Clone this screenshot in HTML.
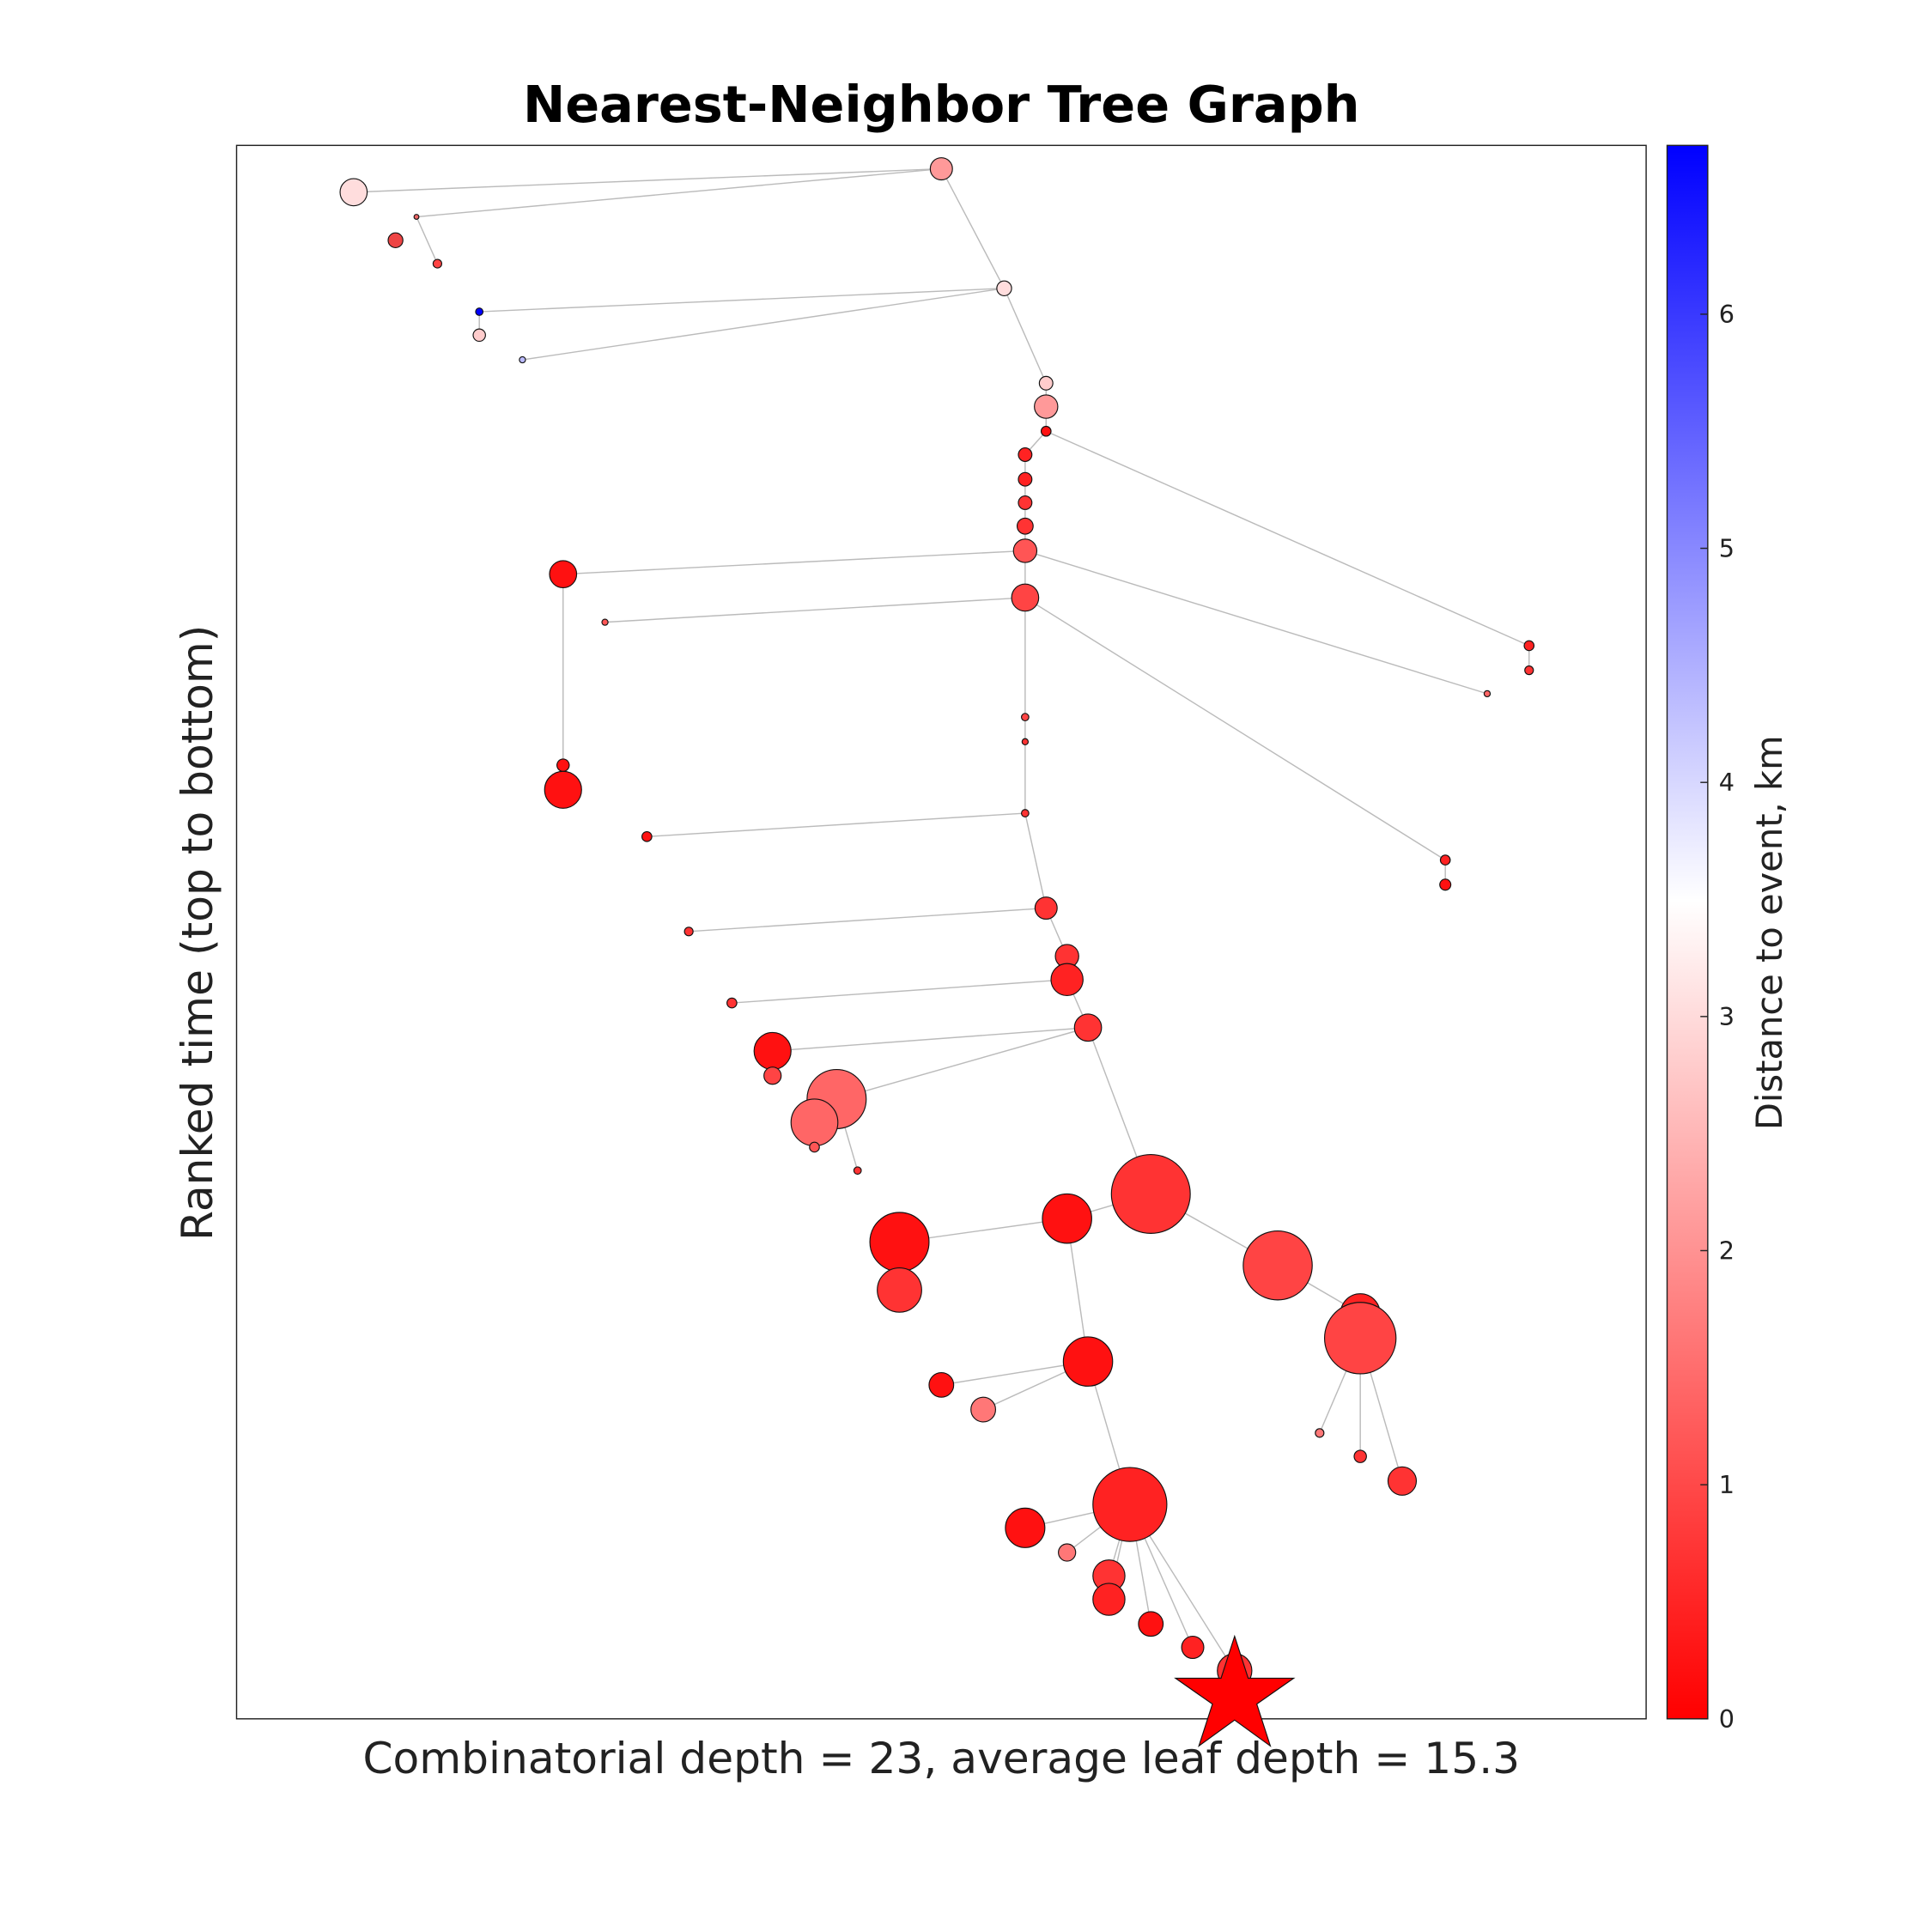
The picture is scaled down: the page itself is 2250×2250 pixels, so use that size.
<!DOCTYPE html>
<html><head><meta charset="utf-8"><style>html,body{margin:0;padding:0;background:#fff}svg{display:block}</style></head><body>
<svg xmlns="http://www.w3.org/2000/svg" width="2250" height="2250" viewBox="0 0 1568 1568" font-family="'DejaVu Sans','Liberation Sans',sans-serif">
<defs><linearGradient id="cb" x1="0" y1="1" x2="0" y2="0">
<stop offset="0" stop-color="#ff0000"/><stop offset="0.52" stop-color="#ffffff"/><stop offset="1" stop-color="#0000ff"/></linearGradient></defs>
<rect width="1568" height="1568" fill="#fff"/>
<rect x="192" y="118" width="1144" height="1277" fill="#fff" stroke="#222" stroke-width="1"/>
<g stroke="#bbb" stroke-width="1" fill="none">
<line x1="764" y1="137" x2="287" y2="156"/><line x1="764" y1="137" x2="338" y2="176"/><line x1="338" y1="176" x2="355" y2="214"/>
<line x1="764" y1="137" x2="815" y2="234"/><line x1="815" y1="234" x2="389" y2="253"/><line x1="815" y1="234" x2="424" y2="292"/><line x1="389" y1="253" x2="389" y2="272"/>
<line x1="815" y1="234" x2="849" y2="311"/><line x1="849" y1="311" x2="849" y2="350"/><line x1="849" y1="350" x2="1241" y2="524"/><line x1="1241" y1="524" x2="1241" y2="544"/>
<line x1="849" y1="350" x2="832" y2="369"/><line x1="832" y1="369" x2="832" y2="485"/>
<line x1="832" y1="447" x2="457" y2="466"/><line x1="832" y1="447" x2="1207" y2="563"/><line x1="457" y1="466" x2="457" y2="641"/>
<line x1="832" y1="485" x2="491" y2="505"/><line x1="832" y1="485" x2="1173" y2="698"/><line x1="1173" y1="698" x2="1173" y2="718"/><line x1="832" y1="485" x2="832" y2="660"/>
<line x1="832" y1="660" x2="525" y2="679"/><line x1="832" y1="660" x2="849" y2="737"/><line x1="849" y1="737" x2="559" y2="756"/><line x1="849" y1="737" x2="866" y2="776"/><line x1="866" y1="776" x2="866" y2="795"/>
<line x1="866" y1="795" x2="594" y2="814"/><line x1="866" y1="795" x2="883" y2="834"/><line x1="883" y1="834" x2="627" y2="853"/><line x1="883" y1="834" x2="679" y2="892"/><line x1="883" y1="834" x2="934" y2="969"/>
<line x1="627" y1="853" x2="627" y2="873"/><line x1="679" y1="892" x2="661" y2="911"/><line x1="661" y1="911" x2="661" y2="931"/><line x1="679" y1="892" x2="696" y2="950"/>
<line x1="934" y1="969" x2="866" y2="989"/><line x1="934" y1="969" x2="1037" y2="1027"/><line x1="866" y1="989" x2="730" y2="1008"/><line x1="866" y1="989" x2="883" y2="1105"/><line x1="730" y1="1008" x2="730" y2="1047"/>
<line x1="1037" y1="1027" x2="1104" y2="1066"/><line x1="1104" y1="1066" x2="1104" y2="1086"/><line x1="1104" y1="1086" x2="1071" y2="1163"/><line x1="1104" y1="1086" x2="1104" y2="1182"/><line x1="1104" y1="1086" x2="1138" y2="1202"/>
<line x1="883" y1="1105" x2="764" y2="1124"/><line x1="883" y1="1105" x2="798" y2="1144"/><line x1="883" y1="1105" x2="917" y2="1221"/>
<line x1="917" y1="1221" x2="832" y2="1240"/><line x1="917" y1="1221" x2="866" y2="1260"/><line x1="917" y1="1221" x2="900" y2="1279"/><line x1="917" y1="1221" x2="900" y2="1298"/><line x1="917" y1="1221" x2="934" y2="1318"/><line x1="917" y1="1221" x2="968" y2="1337"/><line x1="917" y1="1221" x2="1002" y2="1356"/>
</g>
<g stroke="#111" stroke-width="0.8">
<circle cx="764" cy="137" r="9" fill="#f99"/><circle cx="287" cy="156" r="11" fill="#fdd"/><circle cx="338" cy="176" r="2" fill="#e66"/><circle cx="321" cy="195" r="6" fill="#e44"/><circle cx="355" cy="214" r="3.5" fill="#f44"/>
<circle cx="815" cy="234" r="6" fill="#fdd"/><circle cx="389" cy="253" r="3" fill="#00f"/><circle cx="389" cy="272" r="5" fill="#fcc"/><circle cx="424" cy="292" r="2.5" fill="#bbf"/>
<circle cx="849" cy="311" r="5.5" fill="#fcc"/><circle cx="849" cy="330" r="9.5" fill="#f99"/><circle cx="849" cy="350" r="4" fill="#f11"/>
<circle cx="832" cy="369" r="5.5" fill="#f22"/><circle cx="832" cy="389" r="5.5" fill="#f22"/><circle cx="832" cy="408" r="5.5" fill="#f33"/><circle cx="832" cy="427" r="6.5" fill="#f33"/><circle cx="832" cy="447" r="9.5" fill="#f55"/>
<circle cx="457" cy="466" r="11" fill="#f11"/><circle cx="832" cy="485" r="11" fill="#f44"/><circle cx="491" cy="505" r="2.5" fill="#f55"/>
<circle cx="1241" cy="524" r="4" fill="#f22"/><circle cx="1241" cy="544" r="3.5" fill="#f33"/><circle cx="1207" cy="563" r="2.5" fill="#f66"/>
<circle cx="832" cy="582" r="3" fill="#f44"/><circle cx="832" cy="602" r="2.5" fill="#f33"/><circle cx="457" cy="621" r="5" fill="#f11"/><circle cx="457" cy="641" r="15" fill="#f11"/>
<circle cx="832" cy="660" r="3" fill="#f33"/><circle cx="525" cy="679" r="4" fill="#f11"/><circle cx="1173" cy="698" r="4" fill="#f22"/><circle cx="1173" cy="718" r="4.5" fill="#f11"/>
<circle cx="849" cy="737" r="9" fill="#f33"/><circle cx="559" cy="756" r="3.5" fill="#f33"/><circle cx="866" cy="776" r="9.5" fill="#f33"/><circle cx="866" cy="795" r="13" fill="#f22"/>
<circle cx="594" cy="814" r="4" fill="#f33"/><circle cx="883" cy="834" r="11" fill="#f33"/><circle cx="627" cy="853" r="15" fill="#f11"/><circle cx="627" cy="873" r="7" fill="#f44"/>
<circle cx="679" cy="892" r="24" fill="#f66"/><circle cx="661" cy="911" r="19" fill="#f66"/><circle cx="661" cy="931" r="4" fill="#f55"/><circle cx="696" cy="950" r="3" fill="#f33"/>
<circle cx="934" cy="969" r="32" fill="#f33"/><circle cx="866" cy="989" r="20" fill="#f11"/><circle cx="730" cy="1008" r="24" fill="#f11"/><circle cx="1037" cy="1027" r="28" fill="#f44"/>
<circle cx="730" cy="1047" r="18" fill="#f33"/><circle cx="1104" cy="1066" r="16" fill="#f22"/><circle cx="1104" cy="1086" r="29" fill="#f44"/>
<circle cx="883" cy="1105" r="20" fill="#f11"/><circle cx="764" cy="1124" r="10" fill="#f11"/><circle cx="798" cy="1144" r="10" fill="#f77"/>
<circle cx="1071" cy="1163" r="3.5" fill="#f77"/><circle cx="1104" cy="1182" r="5" fill="#f33"/><circle cx="1138" cy="1202" r="11.5" fill="#f33"/>
<circle cx="917" cy="1221" r="30" fill="#f22"/><circle cx="832" cy="1240" r="16" fill="#f11"/><circle cx="866" cy="1260" r="7" fill="#f77"/>
<circle cx="900" cy="1279" r="13" fill="#f33"/><circle cx="900" cy="1298" r="13" fill="#f22"/><circle cx="934" cy="1318" r="10" fill="#f11"/><circle cx="968" cy="1337" r="9" fill="#f22"/><circle cx="1002" cy="1356" r="14" fill="#f33"/>
<polygon points="1002,1328 1013,1362 1050,1362 1020,1383 1031,1417 1002,1396 973,1417 984,1383 954,1362 991,1362" fill="#f00"/>
</g>
<rect x="1353" y="118" width="33" height="1277" fill="url(#cb)" stroke="#222" stroke-width="1"/>
<g stroke="#222" stroke-width="1">
<line x1="1380" y1="1395" x2="1386" y2="1395"/><line x1="1380" y1="1205" x2="1386" y2="1205"/><line x1="1380" y1="1015" x2="1386" y2="1015"/><line x1="1380" y1="825" x2="1386" y2="825"/><line x1="1380" y1="635" x2="1386" y2="635"/><line x1="1380" y1="445" x2="1386" y2="445"/><line x1="1380" y1="255" x2="1386" y2="255"/>
</g>
<g font-size="20" fill="#222">
<text x="1395" y="1402">0</text><text x="1395" y="1212">1</text><text x="1395" y="1022">2</text><text x="1395" y="832">3</text><text x="1395" y="642">4</text><text x="1395" y="452">5</text><text x="1395" y="262">6</text>
</g>
<text x="764" y="99" font-size="41" font-weight="bold" text-anchor="middle" fill="#000">Nearest-Neighbor Tree Graph</text>
<text x="764" y="1439" font-size="35" text-anchor="middle" fill="#222">Combinatorial depth = 23, average leaf depth = 15.3</text>
<text transform="translate(172,757) rotate(-90)" font-size="35" text-anchor="middle" fill="#222">Ranked time (top to bottom)</text>
<text transform="translate(1446,757) rotate(-90)" font-size="29" text-anchor="middle" fill="#222">Distance to event, km</text>
</svg>
</body></html>
